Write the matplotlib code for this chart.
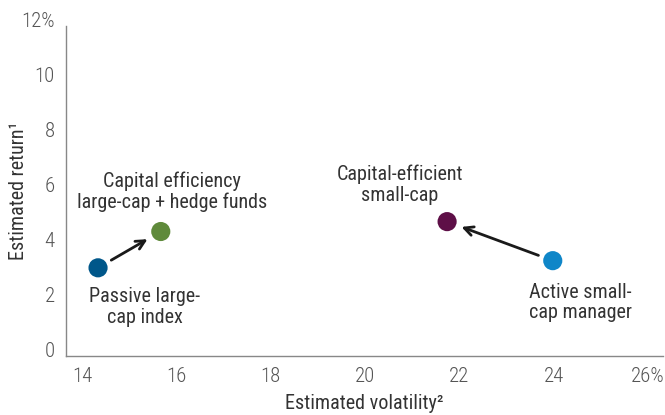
import matplotlib.pyplot as plt
import matplotlib.transforms as mtransforms

plt.rcParams['font.family'] = ['Roboto Condensed', 'Liberation Sans Narrow', 'Roboto', 'DejaVu Sans']

# data
labels = ['Passive large-\ncap index', 'Capital efficiency\nlarge-cap + hedge funds',
          'Capital-efficient\nsmall-cap', 'Active small-\ncap manager']
vol = [14.34, 15.67, 21.74, 23.98]
ret = [3.21, 4.53, 4.89, 3.47]
colors = ['#00578a', '#5f8a3b', '#5e0f47', '#0f86c8']
label_x = [15.33, 15.91, 20.74, 24.56]
xticks = [14, 16, 18, 20, 22, 24, 26]
xticklabels = ['14', '16', '18', '20', '22', '24', '26%']
yticks = [0, 2, 4, 6, 8, 10, 12]
yticklabels = ['0', '2', '4', '6', '8', '10', '12%']

fig = plt.figure(figsize=(6.65, 4.15), dpi=100)
ax = fig.add_axes([0.0992, 0.142, 0.898, 0.795])

ax.scatter(vol, ret, s=190, c=colors, zorder=3, linewidths=0)

# arrows: passive -> green, active -> capital-efficient small-cap
arr = dict(arrowstyle='->', color='#1a1a1a', lw=2, mutation_scale=16, shrinkA=11, shrinkB=11)
ax.annotate('', xy=(vol[1], ret[1]), xytext=(vol[0], ret[0]), arrowprops=arr)
ax.annotate('', xy=(vol[2], ret[2]), xytext=(vol[3], ret[3]), arrowprops=arr)

tc = '#333333'
fs = 14.5
offsets = [-14, 14, 12, -16]  # points below/above each marker
for i in range(4):
    va = 'top' if offsets[i] < 0 else 'bottom'
    ax.annotate(labels[i], xy=(label_x[i], ret[i]), xytext=(0, offsets[i]),
                textcoords='offset points', ha='center', va=va, fontsize=fs,
                color=tc, linespacing=1.1)

ax.set_xlim(13.66, 26.32)
ax.set_ylim(0, 12)
ax.set_xticks(xticks)
ax.set_xticklabels(xticklabels)
ax.set_yticks(yticks)
ax.set_yticklabels(yticklabels)
ax.tick_params(length=0, labelsize=15, labelcolor='#555555', pad=8)
for t in ax.get_xticklabels() + ax.get_yticklabels():
    t.set_fontweight('light')
# y tick labels sit a little above their gridline position
shift = mtransforms.ScaledTranslation(0, 7 / 100, fig.dpi_scale_trans)
for t in ax.get_yticklabels():
    t.set_transform(t.get_transform() + shift)

ax.set_xlabel('Estimated volatility²', fontsize=fs, color=tc)
ax.xaxis.set_label_coords(0.5, -0.115)
ax.set_ylabel('Estimated return¹', fontsize=fs, color=tc)
ax.yaxis.set_label_coords(-0.063, 0.5)
for s in ['top', 'right']:
    ax.spines[s].set_visible(False)
for s in ['left', 'bottom']:
    ax.spines[s].set_color('#888888')
    ax.spines[s].set_linewidth(1)

fig.savefig('out.png', dpi=100)
